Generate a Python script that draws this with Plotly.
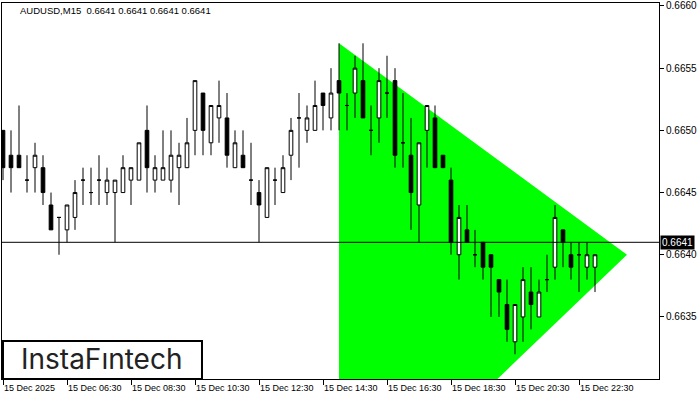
import plotly.graph_objects as go

# ---- data (AUDUSD M15, 15 Dec 2025, bars from 04:30 to 23:00) ----
opens = [0.6650, 0.6648, 0.6648, 0.6646, 0.6647, 0.6647, 0.6644, 0.6643, 0.6642, 0.6643,
         0.6646, 0.6645, 0.6646, 0.6645, 0.6645, 0.6645, 0.6646, 0.6646, 0.6650, 0.6646,
         0.6646, 0.6646, 0.6647, 0.6647, 0.6650, 0.6653, 0.6649, 0.6651, 0.6651, 0.6647,
         0.6648, 0.6646, 0.6645, 0.6643, 0.6646, 0.6645, 0.6648, 0.6651, 0.6650, 0.6650,
         0.6653, 0.6651, 0.6654, 0.6652, 0.6653, 0.6654, 0.6650, 0.6651, 0.6653, 0.6654,
         0.6649, 0.6648, 0.6644, 0.6650, 0.6651, 0.6648, 0.6646, 0.6640, 0.6642, 0.6640,
         0.6641, 0.6640, 0.6638, 0.6636, 0.6633, 0.6635, 0.6637, 0.6635, 0.6638, 0.6639,
         0.6642, 0.6640, 0.6640, 0.6639, 0.6639]
highs = [0.6650, 0.6650, 0.6652, 0.6648, 0.6649, 0.6648, 0.6645, 0.6643, 0.6644, 0.6646,
         0.6647, 0.6647, 0.6648, 0.6647, 0.6646, 0.6648, 0.6647, 0.6649, 0.6652, 0.6648,
         0.6650, 0.6650, 0.6649, 0.6651, 0.6654, 0.6653, 0.6652, 0.6654, 0.6653, 0.6650,
         0.6650, 0.6649, 0.6646, 0.6647, 0.6647, 0.6648, 0.6651, 0.6653, 0.6652, 0.6654,
         0.6653, 0.6655, 0.6657, 0.6653, 0.6656, 0.6657, 0.6652, 0.6655, 0.6656, 0.6655,
         0.6653, 0.6651, 0.6649, 0.6652, 0.6652, 0.6648, 0.6647, 0.6644, 0.6644, 0.6642,
         0.6641, 0.6640, 0.6638, 0.6638, 0.6636, 0.6639, 0.6639, 0.6638, 0.6640, 0.6644,
         0.6642, 0.6641, 0.6641, 0.6641, 0.6640]
lows = [0.6646, 0.6645, 0.6647, 0.6645, 0.6645, 0.6644, 0.6642, 0.6640, 0.6641, 0.6642,
        0.6644, 0.6644, 0.6644, 0.6644, 0.6641, 0.6645, 0.6644, 0.6646, 0.6645, 0.6645,
        0.6646, 0.6645, 0.6644, 0.6647, 0.6648, 0.6648, 0.6648, 0.6649, 0.6647, 0.6647,
        0.6647, 0.6644, 0.6641, 0.6643, 0.6644, 0.6645, 0.6646, 0.6647, 0.6649, 0.6650,
        0.6650, 0.6650, 0.6650, 0.6650, 0.6651, 0.6651, 0.6648, 0.6649, 0.6651, 0.6647,
        0.6647, 0.6642, 0.6641, 0.6647, 0.6647, 0.6647, 0.6640, 0.6638, 0.6641, 0.6639,
        0.6638, 0.6635, 0.6635, 0.6633, 0.6632, 0.6633, 0.6634, 0.6635, 0.6637, 0.6638,
        0.6639, 0.6638, 0.6637, 0.6638, 0.6637]
closes = [0.6647, 0.6647, 0.6647, 0.6646, 0.6648, 0.6645, 0.6642, 0.6643, 0.6644, 0.6645,
          0.6646, 0.6645, 0.6646, 0.6646, 0.6646, 0.6647, 0.6647, 0.6649, 0.6647, 0.6647,
          0.6647, 0.6648, 0.6648, 0.6649, 0.6654, 0.6650, 0.6652, 0.6652, 0.6648, 0.6649,
          0.6647, 0.6646, 0.6644, 0.6647, 0.6646, 0.6647, 0.6650, 0.6651, 0.6651, 0.6652,
          0.6652, 0.6653, 0.6653, 0.6652, 0.6655, 0.6651, 0.6650, 0.6654, 0.6653, 0.6648,
          0.6649, 0.6645, 0.6649, 0.6652, 0.6647, 0.6647, 0.6641, 0.6643, 0.6641, 0.6640,
          0.6639, 0.6639, 0.6637, 0.6634, 0.6636, 0.6638, 0.6636, 0.6637, 0.6638, 0.6643,
          0.6641, 0.6639, 0.6640, 0.6640, 0.6640]
bars = list(range(len(opens)))

tick_bars = [0, 8, 16, 24, 32, 40, 48, 56, 64, 72]
tick_labels = ["15 Dec 2025", "15 Dec 06:30", "15 Dec 08:30", "15 Dec 10:30", "15 Dec 12:30",
               "15 Dec 14:30", "15 Dec 16:30", "15 Dec 18:30", "15 Dec 20:30", "15 Dec 22:30"]
price_ticks = [0.6635, 0.6640, 0.6645, 0.6650, 0.6655, 0.6660]
price_labels = ["0.6635", "0.6640", "0.6645", "0.6650", "0.6655", "0.6660"]

# triangle pattern vertices (bar index, price)
tri_x = [42, 78, 42]
tri_y = [0.6657, 0.6640, 0.66178]

current_price = 0.6641
current_label = "0.6641"
title_text = "AUDUSD,M15  0.6641 0.6641 0.6641 0.6641"
logo_text = "InstaF\u0131ntech"

fig = go.Figure()

tri_path = "M {} {} L {} {} L {} {} Z".format(tri_x[0], tri_y[0], tri_x[1], tri_y[1], tri_x[2], tri_y[2])
fig.add_shape(type="path", path=tri_path, xref="x", yref="y",
              fillcolor="#00FF00", line=dict(width=0), layer="below")

fig.add_trace(go.Candlestick(
    x=bars, open=opens, high=highs, low=lows, close=closes,
    increasing=dict(fillcolor="#FFFFFF", line=dict(color="#000000", width=1)),
    decreasing=dict(fillcolor="#000000", line=dict(color="#000000", width=1)),
    whiskerwidth=0, showlegend=False, hoverinfo="skip"))

fig.add_hline(y=current_price, line=dict(color="#000000", width=1))

FONT = "Liberation Sans"

fig.update_layout(
    width=700, height=400,
    margin=dict(l=2, r=41, t=3, b=21, autoexpand=False),
    paper_bgcolor="#FFFFFF", plot_bgcolor="#FFFFFF",
    template="none",
    boxgap=0.35,
    font=dict(family=FONT, size=10, color="#000000"),
    xaxis=dict(
        range=[-0.125, 82.0], rangeslider=dict(visible=False),
        tickmode="array", tickvals=tick_bars, ticktext=tick_labels,
        ticks="outside", ticklen=5, tickcolor="#000000", tickwidth=1,
        ticklabelposition="outside right",
        tickfont=dict(family=FONT, size=9, color="#000000"),
        showline=True, linecolor="#000000", linewidth=1, mirror=True,
        showgrid=False, zeroline=False, automargin=False),
    yaxis=dict(
        range=[0.663001, 0.666024], side="right",
        tickmode="array", tickvals=price_ticks, ticktext=price_labels,
        ticks="outside", ticklen=4, tickcolor="#000000", tickwidth=1,
        tickfont=dict(family=FONT, size=10, color="#000000"),
        showline=True, linecolor="#000000", linewidth=1, mirror=True,
        showgrid=False, zeroline=False, automargin=False),
)

fig.add_annotation(
    xref="paper", yref="paper", x=0.0244, y=0.979, xanchor="left", yanchor="middle",
    text=title_text, showarrow=False,
    font=dict(family=FONT, size=9.5, color="#000000"))

fig.add_annotation(
    xref="paper", yref="y", x=1, y=current_price, xanchor="left", yanchor="middle",
    xshift=1, text=current_label, showarrow=False,
    bgcolor="#000000", borderpad=1,
    font=dict(family=FONT, size=10, color="#FFFFFF"))

fig.add_shape(type="rect", xref="paper", yref="paper",
              x0=0.0015, x1=0.3044, y0=0.0, y1=0.101,
              fillcolor="#FFFFFF", line=dict(color="#000000", width=2), layer="above")
fig.add_annotation(
    xref="paper", yref="paper", x=0.152, y=0.053, xanchor="center", yanchor="middle",
    text=logo_text, showarrow=False,
    font=dict(family="Inter", size=28, color="#222222"))

fig.write_html("out.html", config={"displayModeBar": False},
               post_script="document.body.style.margin='0';document.body.style.overflow='hidden';")
